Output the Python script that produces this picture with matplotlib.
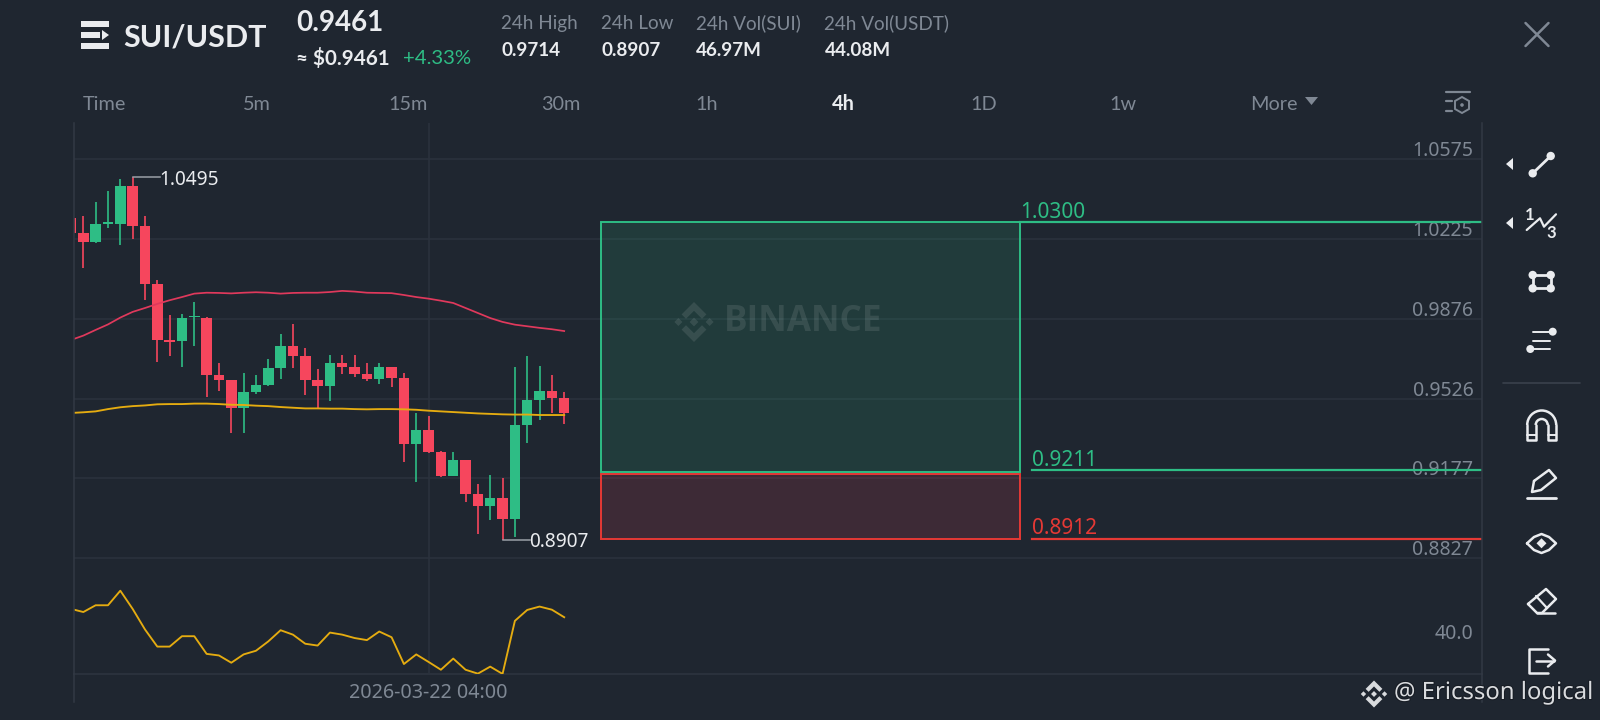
import matplotlib
matplotlib.use('Agg')
import matplotlib.pyplot as plt
import matplotlib.patheffects as pe
from matplotlib.patches import Rectangle, Circle, Polygon, Arc
from matplotlib.transforms import ScaledTranslation

W, H = 1600, 720
BG = '#1f2630'
GRID = '#2b323d'
GRAY = '#7f8894'
WHITE = '#eaecef'
GREEN = '#2ebd85'
RED = '#f6465d'
SANS = 'Noto Sans'
HEAD = 'Lato'

# candles
opens = [1.0316, 1.0253, 1.0214, 1.0293, 1.0293, 1.0458, 1.0281, 1.0027, .9781, .9780,
         .9882, .9881, .9628, .9606, .9486, .9555, .9584, .9660, .9757, .9711,
         .9609, .9583, .9681, .9665, .9632, .9611, .9665, .9618, .9326, .9388,
         .9293, .9188, .9257, .9106, .9054, .9092, .8998, .9410, .9521, .9559, .9529]
closes = [1.0253, 1.0214, 1.0290, 1.0300, 1.0458, 1.0283, 1.0028, .9781, .9773, .9881,
          .9890, .9628, .9606, .9486, .9553, .9584, .9660, .9757, .9711, .9609,
          .9583, .9681, .9666, .9632, .9611, .9665, .9618, .9327, .9388, .9293,
          .9188, .9257, .9108, .9054, .9092, .8998, .9409, .9521, .9559, .9530, .9461]
highs = [1.0316, 1.0326, 1.0389, 1.0436, 1.0489, 1.0495, 1.0326, 1.0046, .9892, .9895,
         .9948, .9882, .9681, .9606, .9637, .9629, .9698, .9809, .9854, .9748,
         .9654, .9717, .9717, .9717, .9681, .9681, .9666, .9640, .9463, .9448,
         .9298, .9292, .9257, .9150, .9190, .9179, .9666, .9713, .9668, .9631, .9556]
lows = [1.0253, 1.0100, 1.0210, 1.0272, 1.0199, 1.0226, .9958, .9688, .9714, .9663,
        .9757, .9533, .9561, .9374, .9377, .9546, .9581, .9613, .9659, .9542,
        .9483, .9517, .9634, .9619, .9603, .9590, .9578, .9248, .9160, .9289,
        .9182, .9187, .9074, .8934, .8994, .8907, .8918, .9330, .9431, .9461, .9415]
ma_red = [.9783, .9802, .9827, .9851, .9881, .9906, .9923, .9941, .9957, .9971,
          .9986, .9990, .9989, .9987, .9990, .9992, .9990, .9986, .9989, .9990,
          .9990, .9993, .9998, .9995, .9990, .9989, .9988, .9980, .9971, .9964,
          .9955, .9945, .9923, .9901, .9879, .9862, .9850, .9843, .9836, .9830, .9822]
ma_yellow = [.9463, .9466, .9470, .9480, .9488, .9493, .9496, .9501, .9502, .9502,
             .9504, .9504, .9502, .9499, .9498, .9495, .9493, .9489, .9486, .9483,
             .9483, .9482, .9482, .9480, .9479, .9480, .9480, .9479, .9477, .9473,
             .9470, .9467, .9464, .9461, .9459, .9457, .9456, .9456, .9454, .9454, .9454]
rsi = [48.5, 47.3, 49.9, 49.9, 55.5, 48.5, 40.6, 34.0, 34.0, 38.0,
       38.0, 31.2, 30.6, 27.8, 31.0, 32.4, 36.0, 40.3, 38.6, 35.1,
       34.4, 39.4, 38.6, 37.3, 36.5, 39.8, 37.6, 27.3, 31.0, 28.1,
       25.1, 29.4, 25.1, 23.6, 26.3, 23.5, 43.9, 48.1, 49.4, 48.2, 45.3]

price_ticks = [1.0575, 1.0225, 0.9876, 0.9526, 0.9177, 0.8827]
rsi_ticks = [40.0]
date_index = [29]
date_labels = ['2026-03-22 04:00']
tp_price, entry_price, sl_price = 1.0300, 0.9211, 0.8912
header_stats = [('24h High', '0.9714'), ('24h Low', '0.8907'), ('24h Vol(SUI)', '46.97M'), ('24h Vol(USDT)', '44.08M')]
tabs = ['Time', '5m', '15m', '30m', '1h', '4h', '1D', '1w', 'More']


def box(x0, y0, x1, y1):
    return [x0 / W, 1 - y1 / H, (x1 - x0) / W, (y1 - y0) / H]


plt.rcParams['font.family'] = [SANS, 'DejaVu Sans']
fig = plt.figure(figsize=(16, 7.2), dpi=100, facecolor=BG)
ax = fig.add_axes(box(74.3, 122.7, 1482.3, 575))
ax2 = fig.add_axes(box(74.3, 575, 1482.3, 673.7))
ui = fig.add_axes([0, 0, 1, 1])
ui.set_xlim(0, W)
ui.set_ylim(H, 0)
ui.axis('off')
ui.patch.set_alpha(0)

xs = list(range(len(opens)))
XLIM = (0.268, 114.46)

# price panel
ax.set_facecolor(BG)
ax.set_xlim(*XLIM)
ax.set_ylim(0.8753, 1.0735)
colors = [GREEN if c >= o else RED for o, c in zip(opens, closes)]
ax.vlines(xs, lows, highs, color=colors, lw=1.2, zorder=3)
ax.bar(xs, [abs(c - o) for o, c in zip(opens, closes)], bottom=[min(o, c) for o, c in zip(opens, closes)],
       width=0.85, color=colors, zorder=4)
ax.plot(xs, ma_red, color='#e0395c', lw=1.25, zorder=5)
ax.plot(xs, ma_yellow, color='#e5ac10', lw=1.35, zorder=5)

ax.set_yticks(price_ticks)
ax.set_yticklabels(['%.4f' % p for p in price_ticks])
ax.yaxis.tick_right()
ax.tick_params(axis='y', length=0, pad=-6.5, labelcolor=GRAY, labelsize=14)
for lab in ax.get_yticklabels():
    lab.set_ha('right')
    lab.set_va('bottom')
    # sit the labels a little lower, close above their grid lines
    lab.set_transform(lab.get_transform() + ScaledTranslation(0, -1.4 / 72, fig.dpi_scale_trans))
ax.set_xticks(date_index)
ax.tick_params(axis='x', length=0, labelbottom=False)
ax.grid(True, color=GRID, lw=1.2, zorder=0)
for s in ax.spines.values():
    s.set_visible(False)

# long position tool
ax.add_patch(Rectangle((43, 0.9203), 34, tp_price - 0.9203, facecolor=(46 / 255, 189 / 255, 133 / 255, 0.14),
                       edgecolor=GREEN, lw=1.4, zorder=2))
ax.add_patch(Rectangle((43, sl_price), 34, 0.9194 - sl_price, facecolor=(246 / 255, 70 / 255, 93 / 255, 0.14),
                       edgecolor='#e53935', lw=1.4, zorder=2))
ax.plot([77, XLIM[1]], [tp_price, tp_price], color=GREEN, lw=1.6, zorder=3)
ax.plot([77.9, XLIM[1]], [entry_price, entry_price], color=GREEN, lw=1.6, zorder=3)
ax.plot([77.9, XLIM[1]], [sl_price, sl_price], color='#e53935', lw=1.6, zorder=3)
ax.text(77.0, tp_price - 0.0006, '%.4f' % tp_price, color=GREEN, fontsize=15, va='bottom')
ax.text(77.9, entry_price - 0.0004, '%.4f' % entry_price, color=GREEN, fontsize=15, va='bottom')
ax.text(77.9, sl_price - 0.0001, '%.4f' % sl_price, color='#e53935', fontsize=15, va='bottom')

# high / low markers
i_hi = highs.index(max(highs))
i_lo = lows.index(min(lows))
ax.plot([i_hi, i_hi + 2.2], [highs[i_hi], highs[i_hi]], color='#9aa0a8', lw=1.1, zorder=6)
ax.plot([i_lo, i_lo + 2.2], [lows[i_lo], lows[i_lo]], color='#9aa0a8', lw=1.1, zorder=6)
ax.text(i_hi + 2.2, highs[i_hi] - 0.0013, '%.4f' % highs[i_hi], color=WHITE, fontsize=13.7, va='center', zorder=7)
ax.text(i_lo + 2.15, lows[i_lo] - 0.0009, '%.4f' % lows[i_lo], color=WHITE, fontsize=13.7, va='center', zorder=7)

# indicator panel
ax2.set_facecolor(BG)
ax2.set_xlim(*XLIM)
ax2.set_ylim(23.58, 61.54)
ax2.plot(xs, rsi, color='#e5ac10', lw=1.35, zorder=3)
ax2.set_xticks(date_index)
ax2.set_xticklabels(date_labels)
ax2.tick_params(axis='x', length=0, pad=6.5, labelcolor=GRAY, labelsize=14.2)
ax2.set_yticks(rsi_ticks)
ax2.set_yticklabels(['%.1f' % v for v in rsi_ticks])
ax2.yaxis.tick_right()
ax2.tick_params(axis='y', length=0, pad=-6.5, labelcolor=GRAY, labelsize=14)
for lab in ax2.get_yticklabels():
    lab.set_ha('right')
ax2.grid(True, axis='x', color=GRID, lw=1.2, zorder=0)
for k, s in ax2.spines.items():
    s.set_visible(k == 'bottom')
    s.set_color(GRID)
    s.set_linewidth(1.4)

# ---- everything below is the app chrome, in pixel coordinates ----
def txt(x, y, s, color=WHITE, size=13, weight='normal', ha='left', family=HEAD, **kw):
    return ui.text(x, y, s, color=color, fontsize=size, fontweight=weight, ha=ha, va='center', family=[family, 'DejaVu Sans'], **kw)


def logo(cx, cy, s, color, alpha=1.0):
    chev = [(0, -1), (.62, -.38), (.40, -.16), (0, -.56), (-.40, -.16), (-.62, -.38)]
    for sign in (1, -1):
        ui.add_patch(Polygon([(cx + a * s, cy + sign * b * s) for a, b in chev], color=color, alpha=alpha, lw=0))
    for dx, r in ((-.78, .2), (0, .22), (.78, .2)):
        ui.add_patch(Polygon([(cx + (dx - r) * s, cy), (cx + dx * s, cy - r * s), (cx + (dx + r) * s, cy), (cx + dx * s, cy + r * s)],
                             color=color, alpha=alpha, lw=0))


def seg(pts, color=WHITE, lw=2.0):
    ui.plot([p[0] for p in pts], [p[1] for p in pts], color=color, lw=lw, solid_capstyle='round', solid_joinstyle='round')


def dot(x, y, r=4, color=WHITE):
    ui.add_patch(Circle((x, y), r, color=color, lw=0))


# axis lines
ui.plot([74.3, 74.3], [122.7, 702], color='#323944', lw=1.1)
ui.plot([1482.3, 1482.3], [122.7, 702], color='#323944', lw=1.1)

# header
for y in (24, 46):
    ui.add_patch(Rectangle((81, y - 3), 28, 6, color=WHITE, lw=0))
ui.add_patch(Rectangle((81, 32), 19, 6, color=WHITE, lw=0))
ui.add_patch(Polygon([(102, 30), (109, 35), (102, 40)], color=WHITE, lw=0))
txt(123, 37.5, 'SUI/USDT', size=22, weight='bold')
txt(296, 23, '0.9461', size=20, weight='bold')
txt(296, 59, '\u2248 $0.9461', size=14.9, weight='bold')
txt(403.5, 59, '+4.33%', color=GREEN, size=14.7)
for x, (name, val) in zip([501, 601, 696, 824.5], header_stats):
    txt(x, 23.5, name, color=GRAY, size=13.6)
    txt(x, 50.5, val, size=13.6, weight='bold')
for x, name in zip([83, 243, 388, 541, 695, 832, 970, 1109, 1250], tabs):
    if name == '4h':
        txt(x, 104, name, size=14.3, weight='bold')
    else:
        txt(x, 104, name, color=GRAY, size=14.3)
ui.add_patch(Polygon([(1305, 97), (1318, 97), (1311.5, 105)], color=GRAY, lw=0))
seg([(1525.5, 23), (1548.5, 46)], GRAY, 1.8)
seg([(1525.5, 46), (1548.5, 23)], GRAY, 1.8)

# chart settings icon
seg([(1446, 91.5), (1470, 91.5)], GRAY, 1.6)
seg([(1446, 101), (1452, 101)], GRAY, 1.6)
seg([(1446, 111), (1452, 111)], GRAY, 1.6)
ui.add_patch(Polygon([(1462, 97), (1469, 101), (1469, 109), (1462, 113), (1455, 109), (1455, 101)], fill=False, edgecolor=GRAY, lw=1.4))
dot(1462, 105, 1.8, GRAY)

# drawing toolbar
ui.add_patch(Polygon([(1513, 158), (1513, 170), (1506, 164)], color=WHITE, lw=0))
ui.add_patch(Polygon([(1513, 217), (1513, 229), (1506, 223)], color=WHITE, lw=0))
seg([(1532.7, 173.3), (1550.7, 156)])
dot(1532.7, 173.3, 4.2)
dot(1550.7, 156, 4.2)
txt(1530, 215, '1', size=12, weight='bold', ha='center')
txt(1551.7, 232.7, '3', size=12, weight='bold', ha='center')
seg([(1526.7, 230), (1540, 218.3), (1544, 226.7), (1556, 214.3)], WHITE, 1.6)
seg([(1532.7, 275), (1550.7, 275), (1550.7, 288.3), (1532.7, 288.3), (1532.7, 275)])
for x, y in [(1532.7, 275), (1550.7, 275), (1532.7, 288.3), (1550.7, 288.3)]:
    dot(x, y, 4.2)
seg([(1533, 331.7), (1553, 331.7)], WHITE, 1.4)
seg([(1533, 340.7), (1550, 340.7)], WHITE, 1.4)
seg([(1531, 349), (1550, 349)], WHITE, 1.4)
dot(1552.7, 331.7, 4)
dot(1530.3, 349, 4)
seg([(1503, 382.7), (1580, 382.7)], '#3a414c', 1.2)
# magnet
ui.add_patch(Arc((1541.7, 425), 29, 29, theta1=180, theta2=360, color=WHITE, lw=1.8))
ui.add_patch(Arc((1541.7, 425), 12, 12, theta1=180, theta2=360, color=WHITE, lw=1.8))
seg([(1527.2, 425), (1527.2, 440), (1535.7, 440), (1535.7, 425)], WHITE, 1.8)
seg([(1556.2, 425), (1556.2, 440), (1547.7, 440), (1547.7, 425)], WHITE, 1.8)
seg([(1527.2, 434.5), (1535.7, 434.5)], WHITE, 1.4)
seg([(1547.7, 434.5), (1556.2, 434.5)], WHITE, 1.4)
# pencil
seg([(1534, 481), (1549, 470), (1556, 478), (1541, 490), (1532, 492), (1534, 481)], WHITE, 1.8)
seg([(1527, 497.5), (1556, 497.5)], WHITE, 2.0)
# eye
seg([(1527, 543.3), (1534, 537), (1541.5, 534), (1549, 537), (1556, 543.3), (1549, 550), (1541.5, 553), (1534, 550), (1527, 543.3)], WHITE, 1.8)
ui.add_patch(Polygon([(1536.5, 543.3), (1541.5, 538.3), (1546.5, 543.3), (1541.5, 548.3)], color=WHITE, lw=0))
# eraser
seg([(1528, 604), (1546, 589), (1556, 599), (1542, 613), (1537, 613), (1528, 604)], WHITE, 1.8)
seg([(1536, 596), (1547, 608)], WHITE, 1.6)
seg([(1537, 613), (1555, 613)], WHITE, 1.8)
# exit
seg([(1548, 648.5), (1529, 648.5), (1529, 673), (1548, 673)], WHITE, 1.8)
seg([(1536, 660.5), (1554, 660.5)], WHITE, 1.8)
seg([(1548, 654.5), (1555, 660.5), (1548, 666.5)], WHITE, 1.8)

# watermarks
logo(694, 322, 20, '#ffffff', alpha=0.10)
txt(724, 322, 'BINANCE', color='#ffffff', size=25.3, weight='bold', family='Open Sans', alpha=0.10)
logo(1374, 694, 13.5, '#d9dbde')
t = txt(1394, 693, '@ Ericsson logical', color='#d9dbde', size=17.2, family=SANS)
t.set_path_effects([pe.withStroke(linewidth=1.5, foreground='#171c24')])

fig.savefig('out.png', dpi=100, facecolor=BG)
